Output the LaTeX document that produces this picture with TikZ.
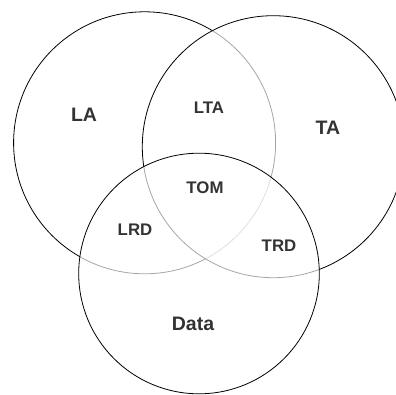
\documentclass[tikz,border=0pt]{standalone}
\usepackage{fontspec}
\setmainfont{Liberation Sans}
\begin{document}
\begin{tikzpicture}[x=1pt,y=-1pt,
  setcircle/.style={draw=black,line width=0.8pt,fill=white,fill opacity=0.65},
  biglabel/.style={text=black!80,font=\bfseries\fontsize{19.5}{19.5}\selectfont},
  smalllabel/.style={text=black!80,font=\bfseries\fontsize{16.8}{16.8}\selectfont}]
\useasboundingbox (0,0) rectangle (396,394);
\begin{scope}
\clip (0,0) rectangle (396,394);
% three overlapping sets, each veiling the outlines drawn before it
\path[setcircle] (144.6,142.8) circle[radius=131];
\path[setcircle] (273.3,146.7) circle[radius=131];
\path[setcircle] (199,273.5) circle[radius=120.3];
\end{scope}
% region labels
\node[biglabel] (la) at (84,115) {LA};
\node[biglabel] (ta) at (328,128) {TA};
\node[biglabel] (data) at (193,324) {Data};
\node[smalllabel] (lta) at (209,108) {LTA};
\node[smalllabel] (tom) at (205,188) {TOM};
\node[smalllabel] (lrd) at (135,230) {LRD};
\node[smalllabel] (trd) at (279,246) {TRD};
\end{tikzpicture}
\end{document}
